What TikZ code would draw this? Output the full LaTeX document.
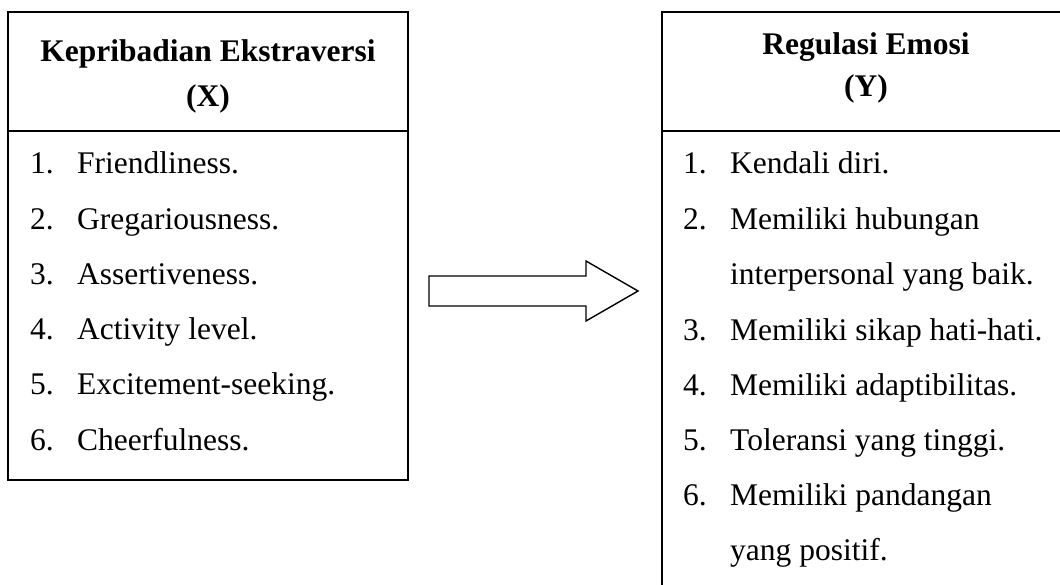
\documentclass[tikz,border=0pt]{standalone}
\usepackage{fontspec}
\setmainfont{Liberation Serif}
\begin{document}
\begin{tikzpicture}[x=1pt,y=-1pt,
  box/.style={draw=black,line width=1.4pt},
  txt/.style={anchor=base west,inner sep=0pt,font=\fontsize{31.5}{36}\selectfont},
  head/.style={anchor=base,inner sep=0pt,font=\fontsize{31.5}{36}\selectfont\bfseries},
  blockarrow/.style={draw=black,line width=1.4pt,fill=white,line join=miter}]
\clip (0,0) rectangle (1060,585);
\fill[white] (0,0) rectangle (1060,585);
% left box
\draw[box] (8,12) rectangle (408,480);
\draw[box] (8,131) -- (408,131);
\node[head] (lh1) at (208,62) {Kepribadian Ekstraversi};
\node[head] (lh2) at (208,107) {(X)};
\foreach \n/\t [count=\i from 0] in {1/Friendliness., 2/Gregariousness., 3/Assertiveness., 4/Activity level., 5/Excitement-seeking., 6/Cheerfulness.}{
  \node[txt] (ln\n) at (30,174+55.2*\i) {\n.};
  \node[txt] (lt\n) at (77,174+55.2*\i) {\t};
}
% right box
\draw[box] (662,12) rectangle (1075,600);
\draw[box] (662,131) -- (1075,131);
\node[head] (rh1) at (866,55) {Regulasi Emosi};
\node[head] (rh2) at (866,97) {(Y)};
\node[txt] (rn1) at (683,174) {1.};
\node[txt] (rt1) at (730,174) {Kendali diri.};
\node[txt] (rn2) at (683,229.5) {2.};
\node[txt] (rt2) at (730,229.5) {Memiliki hubungan};
\node[txt] (rt2b) at (730,285) {interpersonal yang baik.};
\node[txt] (rn3) at (683,340) {3.};
\node[txt] (rt3) at (730,340) {Memiliki sikap hati-hati.};
\node[txt] (rn4) at (683,395) {4.};
\node[txt] (rt4) at (730,395) {Memiliki adaptibilitas.};
\node[txt] (rn5) at (683,450) {5.};
\node[txt] (rt5) at (730,450) {Toleransi yang tinggi.};
\node[txt] (rn6) at (683,505) {6.};
\node[txt] (rt6) at (730,505) {Memiliki pandangan};
\node[txt] (rt6b) at (730,560) {yang positif.};
% block arrow
\draw[blockarrow] (429,276) -- (586,276) -- (586,261) -- (638,291) -- (586,321) -- (586,306) -- (429,306) -- cycle;
\end{tikzpicture}
\end{document}
